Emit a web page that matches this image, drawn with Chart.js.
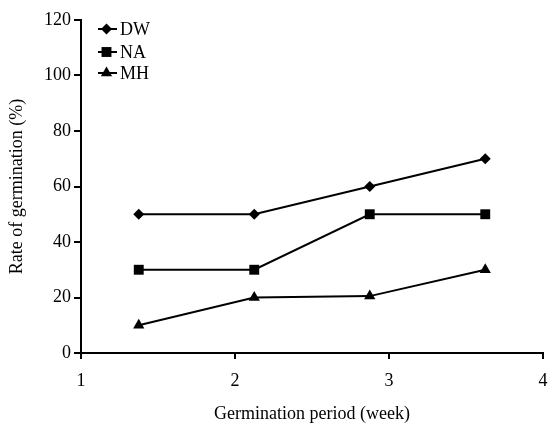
<!DOCTYPE html>
<html>
<head>
<meta charset="utf-8">
<script src="https://cdn.jsdelivr.net/npm/chart.js@4/dist/chart.umd.min.js"></script>
<style>
  html, body { margin: 0; padding: 0; background: #fff; }
  #wrap { width: 550px; height: 425px; }
</style>
</head>
<body>
<div id="wrap"><canvas id="germChart"></canvas></div>
<script>
  // Dados
  const periods = [1.375, 2.125, 2.875, 3.625];
  const seriesNames = ['DW', 'NA', 'MH'];
  const dwValues = [50, 50, 60, 70];
  const naValues = [30, 30, 50, 50];
  const mhValues = [10, 20, 20.5, 30];
  const xTicks = [1, 2, 3, 4];
  const yTicks = [0, 20, 40, 60, 80, 100, 120];

  const serif = "'Liberation Serif', 'DejaVu Serif', serif";
  const styles = [
    { pointStyle: 'rectRot', radius: 5.5 },
    { pointStyle: 'rect', radius: 7 },
    { pointStyle: 'triangle', radius: 6.5 },
  ];

  function pts(vals) {
    return vals.map((v, i) => ({ x: periods[i], y: v }));
  }

  const allValues = [dwValues, naValues, mhValues];
  const datasets = seriesNames.map((name, i) => ({
    label: name,
    data: pts(allValues[i]),
    borderColor: '#000',
    backgroundColor: '#000',
    borderWidth: 2,
    pointStyle: styles[i].pointStyle,
    pointRadius: styles[i].radius,
    pointBorderWidth: 0,
    tension: 0,
  }));

  // legenda desenhada à mão (linha + marcador)
  const legendPlugin = {
    id: 'legendaManual',
    afterDraw(chart) {
      const ctx = chart.ctx;
      const left = chart.chartArea.left + 17;
      const tops = [29, 52, 73];
      ctx.save();
      datasets.forEach((ds, i) => {
        const y = tops[i];
        ctx.strokeStyle = '#000';
        ctx.lineWidth = 2;
        ctx.beginPath();
        ctx.moveTo(left, y);
        ctx.lineTo(left + 19, y);
        ctx.stroke();
        ctx.fillStyle = '#000';
        Chart.helpers.drawPoint(ctx, {
          pointStyle: ds.pointStyle,
          radius: ds.pointRadius,
          borderWidth: 0,
        }, left + 8.5, y);
        ctx.font = '18px ' + serif;
        ctx.textBaseline = 'middle';
        ctx.textAlign = 'left';
        ctx.fillText(ds.label, left + 22, y + 1);
      });
      ctx.restore();
    },
  };

  const config = {
    type: 'line',
    data: { datasets: datasets },
    options: {
      responsive: true,
      maintainAspectRatio: false,
      animation: false,
      layout: { padding: { top: 20, right: 3, left: 0, bottom: 0 } },
      scales: {
        x: {
          type: 'linear',
          min: 1,
          max: 4,
          afterBuildTicks: (scale) => { scale.ticks = xTicks.map(v => ({ value: v })); },
          afterFit: (scale) => {
            scale.height = 72;
            // o "4" pode sair um pouco da área, como no original
            scale.paddingLeft = 0;
            scale.paddingRight = 0;
          },
          border: { color: '#000', width: 2 },
          grid: { drawOnChartArea: false, color: '#000', lineWidth: 2, tickLength: 6 },
          ticks: { color: '#000', font: { family: serif, size: 18 }, padding: 11 },
          title: {
            display: true,
            text: 'Germination period (week)',
            color: '#000',
            font: { family: serif, size: 18 },
            padding: { top: 14, bottom: 0 },
          },
        },
        y: {
          min: 0,
          max: 120,
          afterBuildTicks: (scale) => { scale.ticks = yTicks.map(v => ({ value: v })); },
          afterFit: (scale) => { scale.width = 81; },
          border: { color: '#000', width: 2 },
          grid: { drawOnChartArea: false, color: '#000', lineWidth: 2, tickLength: 7 },
          ticks: { color: '#000', font: { family: serif, size: 18 }, padding: 3 },
          title: {
            display: true,
            text: 'Rate of germination (%)',
            color: '#000',
            font: { family: serif, size: 18 },
            padding: { top: 6, bottom: 4 },
          },
        },
      },
      plugins: {
        legend: { display: false },
        tooltip: { enabled: false },
      },
    },
    plugins: [legendPlugin],
  };

  const ctx = document.getElementById('germChart').getContext('2d');
  new Chart(ctx, config);
</script>
</body>
</html>
